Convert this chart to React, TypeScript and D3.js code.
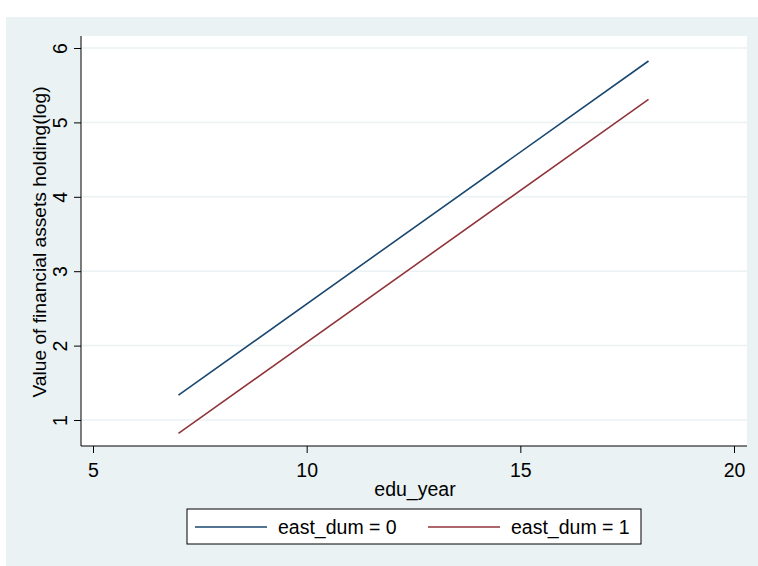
import * as d3 from "d3";
import { useEffect, useRef } from "react";

const xTicks = [5, 10, 15, 20];
const yTicks = [1, 2, 3, 4, 5, 6];
const eduYears = [7, 18];
const east0 = [1.335, 5.825];
const east1 = [0.82, 5.31];
const seriesNames = ["east_dum = 0", "east_dum = 1"];
const seriesColors = ["#1a476f", "#90353b"];

export default function App() {
  const ref = useRef<SVGSVGElement>(null);

  useEffect(() => {
    const svg = d3.select(ref.current);
    svg.selectAll("*").remove();
    const W = 758,
      H = 566;
    const font = "Liberation Sans, Arial, sans-serif";
    const fs = "19.5px";

    svg
      .append("rect")
      .attr("x", 6)
      .attr("y", 17)
      .attr("width", W - 6)
      .attr("height", H - 17)
      .attr("fill", "#eaf2f3");

    const left = 81,
      right = 747,
      top = 36,
      bottom = 446;

    svg
      .append("rect")
      .attr("x", left)
      .attr("y", top)
      .attr("width", right - left)
      .attr("height", bottom - top)
      .attr("fill", "#fff");

    const x = d3.scaleLinear().domain([5, 20]).range([93, 734]);
    const y = d3.scaleLinear().domain([1, 6]).range([420, 48]);

    // grid
    svg
      .selectAll("line.grid")
      .data(yTicks)
      .enter()
      .append("line")
      .attr("class", "grid")
      .attr("x1", left)
      .attr("x2", right)
      .attr("y1", (d) => y(d))
      .attr("y2", (d) => y(d))
      .attr("stroke", "#eaf2f3")
      .attr("stroke-width", 1.5);

    // y axis
    const ya = svg
      .append("g")
      .attr("transform", `translate(${left},0)`)
      .call(d3.axisLeft(y).tickValues(yTicks).tickSize(7).tickSizeOuter(0).tickFormat(d3.format("d")));
    ya.select(".domain").attr("d", `M0,${top}V${bottom}`).attr("stroke", "#000");
    ya.selectAll(".tick line").attr("stroke", "#000");
    ya.selectAll(".tick text")
      .attr("x", 0)
      .attr("dy", 0)
      .attr("transform", "translate(-21,0) rotate(-90)")
      .attr("text-anchor", "middle")
      .attr("dominant-baseline", "central")
      .style("font-family", font)
      .style("font-size", fs)
      .attr("fill", "#000");

    // x axis
    const xa = svg
      .append("g")
      .attr("transform", `translate(0,${bottom})`)
      .call(d3.axisBottom(x).tickValues(xTicks).tickSize(7).tickSizeOuter(0).tickFormat(d3.format("d")));
    xa.select(".domain").attr("d", `M${left},0H${right}`).attr("stroke", "#000");
    xa.selectAll(".tick line").attr("stroke", "#000");
    xa.selectAll(".tick text")
      .attr("y", 24)
      .attr("dy", 0)
      .attr("dominant-baseline", "central")
      .style("font-family", font)
      .style("font-size", fs)
      .attr("fill", "#000");

    svg
      .append("text")
      .attr("x", 415)
      .attr("y", 489)
      .attr("text-anchor", "middle")
      .attr("dominant-baseline", "central")
      .style("font-family", font)
      .style("font-size", fs)
      .text("edu_year");

    svg
      .append("text")
      .attr("transform", "translate(39,242) rotate(-90)")
      .attr("text-anchor", "middle")
      .attr("dominant-baseline", "central")
      .style("font-family", font)
      .style("font-size", "19.2px")
      .text("Value of financial assets holding(log)");

    const line = d3
      .line<number>()
      .x((_, i) => x(eduYears[i]))
      .y((d) => y(d));

    [east0, east1].forEach((s, i) => {
      svg
        .append("path")
        .attr("d", line(s))
        .attr("fill", "none")
        .attr("stroke", seriesColors[i])
        .attr("stroke-width", 1.6);
    });

    // legend
    svg
      .append("rect")
      .attr("x", 187)
      .attr("y", 509)
      .attr("width", 454)
      .attr("height", 35)
      .attr("fill", "#fff")
      .attr("stroke", "#000")
      .attr("stroke-width", 1);

    const legX = [195, 428];
    seriesNames.forEach((n, i) => {
      svg
        .append("line")
        .attr("x1", legX[i])
        .attr("x2", legX[i] + 72)
        .attr("y1", 527)
        .attr("y2", 527)
        .attr("stroke", seriesColors[i])
        .attr("stroke-width", 1.6);
      svg
        .append("text")
        .attr("x", legX[i] + 83)
        .attr("y", 527)
        .attr("dominant-baseline", "central")
        .style("font-family", font)
        .style("font-size", fs)
        .text(n);
    });
  }, []);

  return (
    <svg
      ref={ref}
      width={758}
      height={566}
      style={{ position: "absolute", left: 0, top: 0 }}
    />
  );
}
